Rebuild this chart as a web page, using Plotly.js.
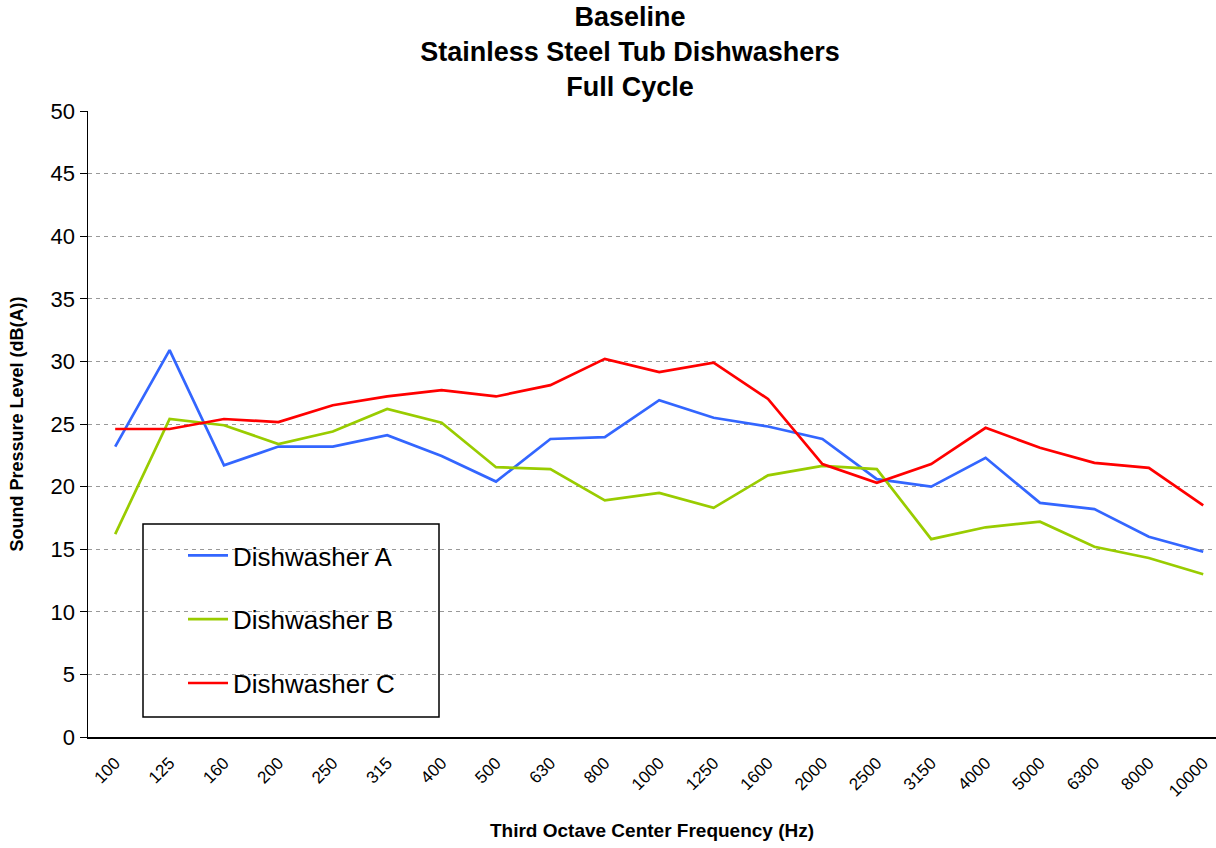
<!DOCTYPE html>
<html>
<head>
<meta charset="utf-8">
<script src="https://cdn.plot.ly/plotly-3.0.1.min.js"></script>
<style>html,body{margin:0;padding:0;background:#fff;}#chart{width:1216px;height:848px;}</style>
</head>
<body>
<div id="chart"></div>
<script>
const frequencies = ["100","125","160","200","250","315","400","500","630","800","1000","1250","1600","2000","2500","3150","4000","5000","6300","8000","10000"];
const dishwasherA = [23.2, 30.9, 21.7, 23.2, 23.2, 24.1, 22.45, 20.4, 23.8, 23.95, 26.9, 25.5, 24.8, 23.8, 20.6, 20.0, 22.3, 18.7, 18.2, 16.0, 14.8];
const dishwasherB = [16.2, 25.4, 24.9, 23.4, 24.4, 26.2, 25.1, 21.55, 21.4, 18.9, 19.5, 18.3, 20.9, 21.65, 21.4, 15.8, 16.75, 17.2, 15.2, 14.3, 13.0];
const dishwasherC = [24.6, 24.6, 25.4, 25.15, 26.5, 27.2, 27.7, 27.2, 28.1, 30.2, 29.15, 29.9, 27.0, 21.8, 20.3, 21.8, 24.7, 23.1, 21.9, 21.5, 18.5];
const seriesNames = ["Dishwasher A", "Dishwasher B", "Dishwasher C"];
const seriesColors = ["#3366FF", "#99CC00", "#FF0000"];
const yTicks = [0,5,10,15,20,25,30,35,40,45,50];

const FONT = '"Liberation Sans", Arial, sans-serif';
const W = 1216, H = 848;
const L = 88, T = 111, B = 111, R = 0;
const PW = W - L - R, PH = H - T - B;
const px2paperX = px => (px - L) / PW;
const px2paperY = py => (T + PH - py) / PH;

const traces = [dishwasherA, dishwasherB, dishwasherC].map((vals, i) => ({
  type: 'scatter', mode: 'lines',
  x: frequencies, y: vals,
  name: seriesNames[i],
  legendgroup: 'g' + i,
  line: {color: seriesColors[i], width: 2.7}
}));

const layout = {
  width: W, height: H,
  margin: {l: L, r: R, t: T, b: B, pad: 0, autoexpand: false},
  paper_bgcolor: '#fff', plot_bgcolor: '#fff',
  font: {family: FONT, color: '#000'},
  showlegend: true,
  title: {
    text: '<b>Baseline<br>Stainless Steel Tub Dishwashers<br>Full Cycle</b>',
    font: {family: FONT, size: 27, color: '#000'},
    x: 630 / W, xref: 'container', xanchor: 'center',
    y: 1 - 26 / H, yref: 'container', yanchor: 'top'
  },
  xaxis: {
    type: 'category',
    range: [-0.5, 20.235],
    showline: true, linecolor: '#000', linewidth: 1.5,
    showgrid: false, zeroline: false,
    ticks: '', tickangle: -45,
    ticklabelstandoff: 8,
    tickfont: {family: FONT, size: 17, color: '#000'},
    automargin: false,
    title: {text: '<b>Third Octave Center Frequency (Hz)</b>', font: {family: FONT, size: 19, color: '#000'}, standoff: 24}
  },
  yaxis: {
    range: [0, 50],
    tickvals: yTicks, ticktext: yTicks.map(String),
    showline: true, linecolor: '#000', linewidth: 1.5,
    showgrid: true, gridcolor: '#999', gridwidth: 1, griddash: '4px,4px',
    zeroline: false,
    ticks: 'outside', ticklen: 7, tickcolor: '#000', tickwidth: 1,
    tickfont: {family: FONT, size: 22, color: '#000'},
    automargin: false,
    title: {text: '<b>Sound Pressure Level (dB(A))</b>', font: {family: FONT, size: 18, color: '#000'}, standoff: 22}
  },
  legend: {
    x: px2paperX(183), xref: 'paper', xanchor: 'left',
    y: px2paperY(532), yref: 'paper', yanchor: 'top',
    bgcolor: 'rgba(0,0,0,0)', borderwidth: 0,
    font: {family: FONT, size: 26, color: '#000'},
    traceorder: 'grouped', tracegroupgap: 27,
    itemwidth: 40
  },
  shapes: [{
    type: 'rect', xref: 'paper', yref: 'paper', layer: 'between',
    x0: px2paperX(143), x1: px2paperX(439),
    y0: px2paperY(717), y1: px2paperY(524),
    line: {color: '#000', width: 1.5}, fillcolor: '#fff'
  }]
};

Plotly.newPlot('chart', traces, layout, {displayModeBar: false, staticPlot: true});
</script>
</body>
</html>
